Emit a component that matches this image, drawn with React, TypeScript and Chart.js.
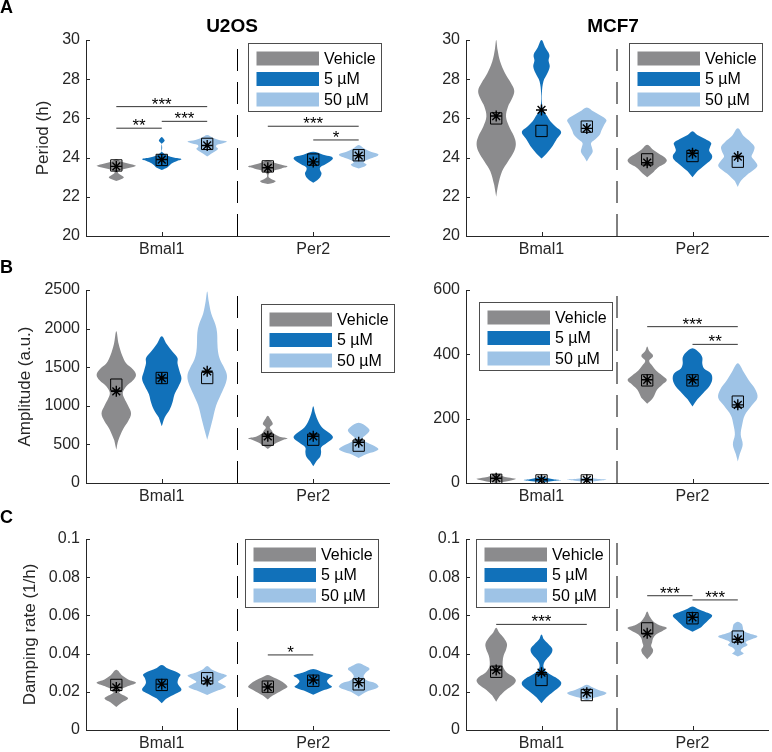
import React, { useEffect, useRef } from 'react';
import { Chart, registerables } from 'chart.js';

Chart.register(...registerables);

type Prof = [number, number][];
type Sig = [number, number, number, string];

const FONT = '"Liberation Sans", Arial, Helvetica, sans-serif';
const AXIS_COLOR = '#262626';

const GROUPS = ['Bmal1', 'Per2'];
const TREATMENTS = ['Vehicle', '5 µM', '50 µM'];
const COLORS = ['#8b8b8d', '#1171ba', '#9ec3e6'];
const OFFSETS = [-0.3, 0, 0.3];
const HALF_W = 0.13;

// ---------- A: Period, U2OS ----------
const perU2_b_veh: Prof = [[22.8, 0], [22.92, 0.3], [23.0, 0.38], [23.1, 0.25], [23.2, 0.1], [23.3, 0.1], [23.42, 0.4], [23.52, 0.85], [23.58, 1], [23.66, 0.75], [23.76, 0.35], [23.85, 0.15], [23.93, 0]];
const perU2_b_5: Prof = [[23.37, 0], [23.5, 0.28], [23.7, 0.5], [23.84, 0.8], [23.92, 1], [24.0, 0.6], [24.1, 0.3], [24.2, 0.12], [24.32, 0], [24.7, 0], [24.8, 0.1], [24.87, 0.15], [24.95, 0.1], [25.05, 0]];
const perU2_b_50: Prof = [[24.05, 0], [24.2, 0.2], [24.35, 0.45], [24.45, 0.55], [24.55, 0.45], [24.65, 0.5], [24.75, 0.85], [24.82, 1], [24.9, 0.6], [25.0, 0.3], [25.15, 0]];
const perU2_p_veh: Prof = [[22.65, 0], [22.72, 0.3], [22.8, 0.4], [22.9, 0.2], [23.0, 0.05], [23.15, 0.05], [23.3, 0.2], [23.45, 0.7], [23.54, 1], [23.63, 0.7], [23.75, 0.3], [23.88, 0]];
const perU2_p_5: Prof = [[22.72, 0], [22.85, 0.2], [23.0, 0.35], [23.2, 0.42], [23.35, 0.35], [23.5, 0.35], [23.65, 0.6], [23.8, 0.85], [23.95, 1], [24.05, 0.9], [24.15, 0.5], [24.3, 0]];
const perU2_p_50: Prof = [[23.45, 0], [23.55, 0.3], [23.65, 0.4], [23.75, 0.25], [23.85, 0.35], [23.95, 0.6], [24.08, 0.95], [24.17, 1], [24.28, 0.65], [24.45, 0.3], [24.64, 0]];
const perU2_median = [23.6, 23.88, 24.7, 23.55, 23.9, 24.12];
const perU2_mean = [23.55, 23.9, 24.62, 23.48, 23.78, 24.1];
const perU2_sig: Sig[] = [[0.7, 1.3, 26.6, '***'], [0.7, 1.0, 25.5, '**'], [1.0, 1.3, 25.85, '***'], [1.7, 2.3, 25.6, '***'], [2.0, 2.3, 24.9, '*']];

// ---------- A: Period, MCF7 ----------
const perMC_b_veh: Prof = [[22.0, 0], [22.6, 0.1], [23.3, 0.3], [23.8, 0.6], [24.3, 0.9], [24.7, 1], [25.1, 0.9], [25.6, 0.65], [26.1, 0.5], [26.6, 0.6], [27.0, 0.8], [27.4, 0.92], [27.8, 0.75], [28.3, 0.45], [28.9, 0.2], [29.5, 0.07], [30.0, 0]];
const perMC_b_5: Prof = [[23.95, 0], [24.2, 0.25], [24.5, 0.5], [24.9, 0.75], [25.3, 1], [25.6, 0.7], [25.85, 0.45], [26.1, 0.3], [26.4, 0.1], [26.7, 0.03], [27.3, 0.02], [27.9, 0.1], [28.3, 0.3], [28.65, 0.42], [28.95, 0.36], [29.25, 0.4], [29.6, 0.2], [30.0, 0]];
const perMC_b_50: Prof = [[23.8, 0], [24.05, 0.15], [24.3, 0.3], [24.55, 0.25], [24.75, 0.22], [24.95, 0.45], [25.15, 0.65], [25.4, 0.75], [25.7, 0.9], [25.92, 1], [26.15, 0.7], [26.35, 0.35], [26.56, 0]];
const perMC_p_veh: Prof = [[23.0, 0], [23.2, 0.25], [23.5, 0.55], [23.7, 0.9], [23.85, 1], [24.0, 0.9], [24.2, 0.6], [24.4, 0.3], [24.65, 0]];
const perMC_p_5: Prof = [[23.0, 0], [23.3, 0.25], [23.6, 0.6], [23.9, 0.95], [24.1, 1], [24.35, 0.85], [24.55, 0.9], [24.75, 0.95], [24.95, 0.65], [25.15, 0.25], [25.35, 0]];
const perMC_p_50: Prof = [[22.5, 0], [22.8, 0.15], [23.1, 0.45], [23.4, 0.85], [23.6, 1], [23.85, 0.85], [24.05, 0.7], [24.3, 0.8], [24.55, 0.85], [24.8, 0.65], [25.1, 0.3], [25.5, 0]];
const perMC_median = [26.0, 25.36, 25.58, 23.91, 24.08, 23.79];
const perMC_mean = [26.12, 26.43, 25.49, 23.74, 24.22, 24.05];
const perMC_sig: Sig[] = [];

// ---------- B: Amplitude, U2OS ----------
const ampU2_b_veh: Prof = [[430, 0], [550, 0.1], [700, 0.35], [800, 0.6], [900, 0.75], [1000, 0.6], [1100, 0.4], [1170, 0.33], [1250, 0.5], [1330, 0.85], [1400, 1], [1470, 0.85], [1550, 0.5], [1650, 0.3], [1800, 0.12], [1965, 0]];
const ampU2_b_5: Prof = [[734, 0], [850, 0.15], [950, 0.4], [1050, 0.55], [1150, 0.65], [1250, 0.85], [1350, 1], [1450, 0.9], [1550, 0.8], [1620, 0.8], [1700, 0.55], [1800, 0.25], [1900, 0]];
const ampU2_b_50: Prof = [[560, 0], [700, 0.15], [850, 0.3], [1000, 0.45], [1150, 0.7], [1300, 0.95], [1400, 1], [1500, 0.85], [1600, 0.65], [1700, 0.55], [1800, 0.52], [1950, 0.5], [2050, 0.42], [2200, 0.2], [2350, 0.08], [2480, 0]];
const ampU2_p_veh: Prof = [[440, 0], [480, 0.2], [520, 0.45], [560, 0.8], [580, 1], [600, 0.6], [640, 0.3], [680, 0.2], [720, 0.1], [760, 0.25], [800, 0.2], [840, 0.1], [870, 0]];
const ampU2_p_5: Prof = [[216, 0], [280, 0.15], [340, 0.35], [400, 0.4], [460, 0.4], [520, 0.7], [590, 1], [650, 0.8], [720, 0.45], [800, 0.25], [900, 0.1], [995, 0]];
const ampU2_p_50: Prof = [[324, 0], [370, 0.35], [410, 0.85], [440, 1], [480, 0.8], [540, 0.3], [580, 0.2], [630, 0.4], [680, 0.55], [720, 0.45], [780, 0]];
const ampU2_median = [1274, 1360, 1360, 561, 561, 484];
const ampU2_mean = [1187, 1360, 1447, 605, 605, 527];
const ampU2_sig: Sig[] = [];

// ---------- B: Amplitude, MCF7 ----------
const ampMC_b_veh: Prof = [[0, 0], [5, 0.5], [10, 0.9], [13, 1], [17, 0.6], [22, 0.3], [29, 0]];
const ampMC_b_5: Prof = [[2, 0], [6, 0.6], [9, 1], [12, 0.6], [17, 0.2], [21, 0]];
const ampMC_b_50: Prof = [[3, 0], [7, 0.6], [10, 1], [13, 0.5], [18, 0]];
const ampMC_p_veh: Prof = [[246, 0], [265, 0.3], [290, 0.5], [305, 0.75], [320, 1], [335, 0.75], [350, 0.45], [365, 0.25], [380, 0.1], [395, 0.3], [410, 0.1], [424, 0]];
const ampMC_p_5: Prof = [[238, 0], [260, 0.25], [280, 0.55], [300, 0.85], [320, 1], [340, 0.95], [355, 0.6], [370, 0.5], [390, 0.5], [405, 0.35], [419, 0]];
const ampMC_p_50: Prof = [[67, 0], [90, 0.1], [120, 0.25], [150, 0.15], [180, 0.22], [210, 0.35], [240, 0.7], [265, 1], [290, 0.9], [320, 0.55], [345, 0.3], [372, 0]];
const ampMC_median = [10, 8, 8, 319, 319, 253];
const ampMC_mean = [15, 10, 10, 321, 321, 243];
const ampMC_sig: Sig[] = [[1.7, 2.3, 486, '***'], [2.0, 2.3, 431, '**']];

// ---------- C: Damping rate, U2OS ----------
const dmpU2_b_veh: Prof = [[0.012, 0], [0.0145, 0.3], [0.0165, 0.6], [0.018, 0.4], [0.0195, 0.15], [0.021, 0.2], [0.023, 0.6], [0.0248, 1], [0.0265, 0.6], [0.0285, 0.3], [0.0315, 0]];
const dmpU2_b_5: Prof = [[0.014, 0], [0.0165, 0.25], [0.019, 0.7], [0.021, 1], [0.0235, 0.85], [0.025, 0.8], [0.027, 0.85], [0.029, 0.95], [0.031, 0.6], [0.0325, 0.25], [0.034, 0]];
const dmpU2_b_50: Prof = [[0.0183, 0], [0.0205, 0.5], [0.0225, 0.95], [0.024, 0.75], [0.0253, 0.55], [0.027, 0.8], [0.0285, 1], [0.03, 0.6], [0.0315, 0.25], [0.0335, 0]];
const dmpU2_p_veh: Prof = [[0.016, 0], [0.018, 0.25], [0.0195, 0.5], [0.021, 0.75], [0.0225, 1], [0.024, 0.9], [0.026, 0.6], [0.0275, 0.3], [0.0288, 0]];
const dmpU2_p_5: Prof = [[0.0185, 0], [0.0205, 0.45], [0.0225, 0.95], [0.024, 0.8], [0.0255, 0.7], [0.027, 0.8], [0.0285, 1], [0.03, 0.55], [0.032, 0]];
const dmpU2_p_50: Prof = [[0.0175, 0], [0.02, 0.4], [0.0225, 1], [0.0245, 0.85], [0.026, 0.4], [0.028, 0.25], [0.03, 0.35], [0.032, 0.55], [0.0335, 0.35], [0.035, 0]];
const dmpU2_median = [0.0236, 0.0236, 0.0271, 0.0227, 0.0258, 0.0239];
const dmpU2_mean = [0.0223, 0.024, 0.0257, 0.0225, 0.0262, 0.0248];
const dmpU2_sig: Sig[] = [[1.7, 2.0, 0.0393, '*']];

// ---------- C: Damping rate, MCF7 ----------
const dmpMC_b_veh: Prof = [[0.0148, 0], [0.018, 0.2], [0.021, 0.5], [0.024, 0.9], [0.026, 1], [0.028, 0.85], [0.03, 0.55], [0.033, 0.35], [0.036, 0.33], [0.039, 0.38], [0.042, 0.5], [0.045, 0.55], [0.048, 0.4], [0.051, 0.15], [0.0535, 0]];
const dmpMC_b_5: Prof = [[0.014, 0], [0.017, 0.25], [0.02, 0.6], [0.023, 0.95], [0.025, 1], [0.027, 0.8], [0.029, 0.45], [0.031, 0.2], [0.033, 0.1], [0.035, 0.12], [0.037, 0.25], [0.04, 0.5], [0.0425, 0.55], [0.045, 0.35], [0.0475, 0.12], [0.05, 0]];
const dmpMC_b_50: Prof = [[0.0155, 0], [0.017, 0.4], [0.0185, 0.9], [0.0195, 1], [0.021, 0.6], [0.0225, 0.25], [0.0237, 0]];
const dmpMC_p_veh: Prof = [[0.037, 0], [0.04, 0.25], [0.042, 0.3], [0.044, 0.2], [0.046, 0.25], [0.048, 0.3], [0.05, 0.45], [0.052, 0.8], [0.0535, 1], [0.055, 0.6], [0.057, 0.3], [0.0595, 0.12], [0.062, 0]];
const dmpMC_p_5: Prof = [[0.0515, 0], [0.0535, 0.4], [0.0555, 0.6], [0.0575, 0.8], [0.06, 1], [0.062, 0.6], [0.0635, 0.25], [0.0647, 0]];
const dmpMC_p_50: Prof = [[0.0385, 0], [0.04, 0.3], [0.0415, 0.15], [0.043, 0.25], [0.0445, 0.5], [0.046, 0.4], [0.0475, 0.7], [0.049, 1], [0.0505, 0.6], [0.052, 0.3], [0.054, 0.25], [0.0555, 0.2], [0.0567, 0]];
const dmpMC_median = [0.0305, 0.0262, 0.0183, 0.0532, 0.0585, 0.0489];
const dmpMC_mean = [0.0314, 0.03, 0.0195, 0.0506, 0.059, 0.0475];
const dmpMC_sig: Sig[] = [[0.7, 1.3, 0.0553, '***'], [1.7, 2.0, 0.0703, '***'], [2.0, 2.3, 0.0681, '***']];

// ---------- layout ----------
interface Panel {
  key: string;
  area: [number, number, number, number];
  yMin: number; yMax: number; yStep: number;
  yTitle?: string; yTitleX?: number;
  title?: string; titleX?: number;
  letter?: string; letterY?: number;
  legend: [number, number];
  violins: Prof[];
  median: number[];
  mean: number[];
  sig: Sig[];
}

const PANELS: Panel[] = [
  { key: 'A1', area: [86, 40, 389, 236], yMin: 20, yMax: 30, yStep: 2, yTitle: 'Period (h)', yTitleX: 43, title: 'U2OS', titleX: 232, letter: 'A', letterY: 13, legend: [248, 43],
    violins: [perU2_b_veh, perU2_b_5, perU2_b_50, perU2_p_veh, perU2_p_5, perU2_p_50], median: perU2_median, mean: perU2_mean, sig: perU2_sig },
  { key: 'A2', area: [466, 40, 768, 236], yMin: 20, yMax: 30, yStep: 2, title: 'MCF7', titleX: 613, legend: [629, 43],
    violins: [perMC_b_veh, perMC_b_5, perMC_b_50, perMC_p_veh, perMC_p_5, perMC_p_50], median: perMC_median, mean: perMC_mean, sig: perMC_sig },
  { key: 'B1', area: [86, 290, 389, 483], yMin: 0, yMax: 2500, yStep: 500, yTitle: 'Amplitude (a.u.)', yTitleX: 25, letter: 'B', letterY: 273, legend: [261, 304],
    violins: [ampU2_b_veh, ampU2_b_5, ampU2_b_50, ampU2_p_veh, ampU2_p_5, ampU2_p_50], median: ampU2_median, mean: ampU2_mean, sig: ampU2_sig },
  { key: 'B2', area: [466, 290, 768, 483], yMin: 0, yMax: 600, yStep: 200, legend: [479, 302],
    violins: [ampMC_b_veh, ampMC_b_5, ampMC_b_50, ampMC_p_veh, ampMC_p_5, ampMC_p_50], median: ampMC_median, mean: ampMC_mean, sig: ampMC_sig },
  { key: 'C1', area: [86, 539, 389, 730], yMin: 0, yMax: 0.1, yStep: 0.02, yTitle: 'Damping rate (1/h)', yTitleX: 30, letter: 'C', letterY: 523, legend: [245, 539],
    violins: [dmpU2_b_veh, dmpU2_b_5, dmpU2_b_50, dmpU2_p_veh, dmpU2_p_5, dmpU2_p_50], median: dmpU2_median, mean: dmpU2_mean, sig: dmpU2_sig },
  { key: 'C2', area: [466, 539, 768, 730], yMin: 0, yMax: 0.1, yStep: 0.02, legend: [476, 539],
    violins: [dmpMC_b_veh, dmpMC_b_5, dmpMC_b_50, dmpMC_p_veh, dmpMC_p_5, dmpMC_p_50], median: dmpMC_median, mean: dmpMC_mean, sig: dmpMC_sig },
];

const PAGE_W = 772;
const PAGE_H = 752;
const CW = 772;
const CH = 790;

function violinPoints(prof: Prof, cx: number) {
  const right = prof.map(([v, w]) => ({ x: cx + w * HALF_W, y: v }));
  const left = prof.slice(1, -1).reverse().map(([v, w]) => ({ x: cx - w * HALF_W, y: v }));
  return [...right, ...left];
}

function decorPlugin(p: Panel) {
  return {
    id: 'decor' + p.key,
    afterDatasetsDraw(chart: any) {
      const ctx = chart.ctx as CanvasRenderingContext2D;
      const xs = chart.scales.x;
      const ys = chart.scales.y;
      const { left: L, bottom: B } = chart.chartArea;
      ctx.save();
      // inward tick marks
      ctx.strokeStyle = AXIS_COLOR;
      ctx.lineWidth = 1;
      ctx.beginPath();
      ys.ticks.forEach((t: any) => {
        const y = Math.round(ys.getPixelForValue(t.value)) + 0.5;
        ctx.moveTo(L, y);
        ctx.lineTo(L + 4, y);
      });
      [1, 2].forEach((v) => {
        const x = Math.round(xs.getPixelForValue(v)) + 0.5;
        ctx.moveTo(x, B);
        ctx.lineTo(x, B - 4);
      });
      ctx.stroke();
      // significance labels
      ctx.fillStyle = '#000';
      ctx.font = `17px ${FONT}`;
      ctx.textAlign = 'center';
      ctx.textBaseline = 'alphabetic';
      p.sig.forEach(([x1, x2, y, label]) => {
        const px = (xs.getPixelForValue(x1) + xs.getPixelForValue(x2)) / 2;
        ctx.fillText(label, px, ys.getPixelForValue(y) + 3);
      });
      // legend
      const [lx, ly] = p.legend;
      ctx.fillStyle = '#fff';
      ctx.fillRect(lx, ly, 133, 68);
      ctx.strokeStyle = '#4d4d4d';
      ctx.strokeRect(lx + 0.5, ly + 0.5, 133, 68);
      ctx.font = `16px ${FONT}`;
      ctx.textAlign = 'left';
      ctx.textBaseline = 'middle';
      TREATMENTS.forEach((name, i) => {
        const cy = ly + 15.5 + i * 20.5;
        ctx.fillStyle = COLORS[i];
        ctx.fillRect(lx + 8.5, cy - 7, 62.5, 14);
        ctx.fillStyle = '#000';
        ctx.fillText(name, lx + 76, cy + 1);
      });
      ctx.restore();
    },
    afterDraw(chart: any) {
      const ctx = chart.ctx as CanvasRenderingContext2D;
      ctx.save();
      ctx.fillStyle = '#000';
      ctx.textBaseline = 'alphabetic';
      if (p.title) {
        ctx.font = `bold 19px ${FONT}`;
        ctx.textAlign = 'center';
        ctx.fillText(p.title, p.titleX as number, 32);
      }
      if (p.letter) {
        ctx.font = `bold 18px ${FONT}`;
        ctx.textAlign = 'left';
        ctx.fillText(p.letter, 0, p.letterY as number);
      }
      ctx.restore();
    },
  };
}

function buildConfig(p: Panel): any {
  const [L, T, R, B] = p.area;
  const titleFont = 17;
  const Wy = p.yTitle ? L - ((p.yTitleX as number) - (titleFont * 1.2) / 2) : 50;
  const Hx = 28;
  const pos = [0, 1].flatMap((g) => OFFSETS.map((o) => g + 1 + o));
  const datasets: any[] = [];
  datasets.push({
    data: pos.map((x, i) => ({ x, y: p.mean[i] })),
    pointStyle: 'star', pointRadius: 5.5, pointBorderColor: '#000', pointBackgroundColor: '#000', pointBorderWidth: 1.4, order: 0,
  });
  datasets.push({
    data: pos.map((x, i) => ({ x, y: p.median[i] })),
    pointStyle: 'rect', pointRadius: 8, pointBorderColor: '#000', pointBackgroundColor: 'rgba(0,0,0,0)', pointBorderWidth: 1, order: 1,
  });
  p.sig.forEach(([x1, x2, y]) => {
    datasets.push({ data: [{ x: x1, y }, { x: x2, y }], showLine: true, borderColor: '#333', borderWidth: 1, pointRadius: 0, order: 2 });
  });
  datasets.push({
    data: [{ x: 1.5, y: p.yMin }, { x: 1.5, y: p.yMax }], showLine: true, borderColor: '#000', borderWidth: 1, borderDash: [22, 11], pointRadius: 0, order: 3,
  });
  p.violins.forEach((prof, i) => {
    datasets.push({
      data: violinPoints(prof, pos[i]), showLine: true, fill: 'shape', backgroundColor: COLORS[i % 3],
      borderColor: 'rgba(0,0,0,0)', borderWidth: 0, pointRadius: 0, tension: 0.35, order: 10,
    });
  });

  return {
    type: 'scatter',
    data: { datasets },
    plugins: [decorPlugin(p)],
    options: {
      animation: false,
      responsive: false,
      devicePixelRatio: 1,
      events: [],
      layout: { autoPadding: false, padding: { left: L - Wy, right: CW - R, top: T, bottom: CH - B - Hx } },
      plugins: { legend: { display: false }, tooltip: { enabled: false }, title: { display: false } },
      scales: {
        x: {
          type: 'linear', min: 0.5, max: 2.5,
          grid: { display: false, drawTicks: false, tickLength: 0 },
          border: { display: true, color: AXIS_COLOR, width: 1 },
          afterBuildTicks: (scale: any) => { scale.ticks = [{ value: 1 }, { value: 2 }]; },
          afterFit: (scale: any) => { scale.height = Hx; },
          ticks: { padding: 4, color: AXIS_COLOR, font: { size: 16, family: FONT }, autoSkip: false, maxRotation: 0, callback: (v: any) => GROUPS[Math.round(v) - 1] },
        },
        y: {
          type: 'linear', min: p.yMin, max: p.yMax,
          grid: { display: false, drawTicks: false, tickLength: 0 },
          border: { display: true, color: AXIS_COLOR, width: 1 },
          afterFit: (scale: any) => { scale.width = Wy; },
          ticks: { stepSize: p.yStep, padding: 6, color: AXIS_COLOR, font: { size: 16, family: FONT }, callback: (v: any) => String(Number(Number(v).toPrecision(6))) },
          title: { display: !!p.yTitle, text: p.yTitle || '', color: AXIS_COLOR, font: { size: titleFont, family: FONT }, padding: { top: 0, bottom: 0 } },
        },
      },
    },
  };
}

function PanelChart({ panel }: { panel: Panel }) {
  const ref = useRef<HTMLCanvasElement>(null);
  useEffect(() => {
    if (!ref.current) return;
    const chart = new Chart(ref.current, buildConfig(panel));
    return () => chart.destroy();
  }, [panel]);
  return <canvas ref={ref} width={CW} height={CH} style={{ position: 'absolute', left: 0, top: 0, width: CW, height: CH }} />;
}

export default function App() {
  Chart.defaults.font.family = FONT;
  return (
    <div style={{ position: 'absolute', left: 0, top: 0, width: PAGE_W, height: PAGE_H, background: '#fff', overflow: 'hidden' }}>
      {PANELS.map((p) => (
        <PanelChart key={p.key} panel={p} />
      ))}
    </div>
  );
}
